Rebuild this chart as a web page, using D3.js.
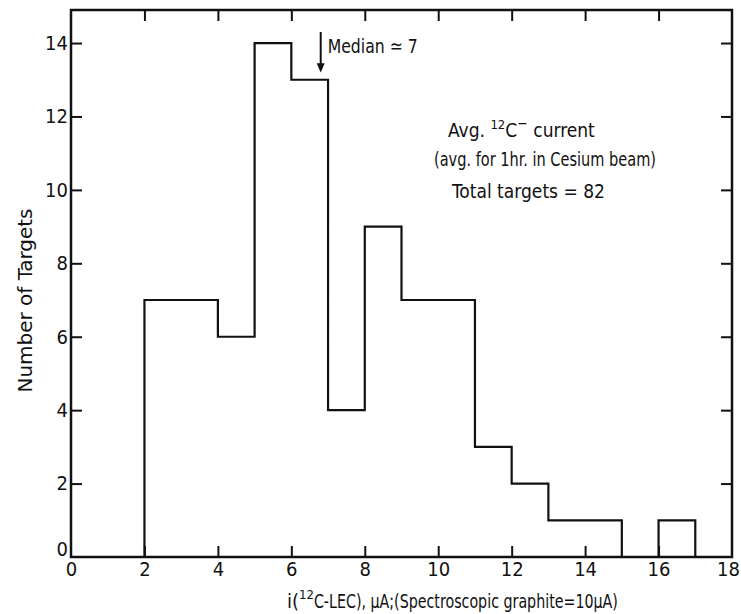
<!DOCTYPE html>
<html>
<head>
<meta charset="utf-8">
<script src="https://cdn.jsdelivr.net/npm/d3@7"></script>
<style>
  html, body { margin: 0; padding: 0; background: #fff; }
  svg text { font-family: "Liberation Sans Narrow", "DejaVu Sans Condensed", "Liberation Sans", sans-serif; fill: #111; }
</style>
</head>
<body>
<svg id="chart" width="741" height="614"></svg>
<script>
// ---- data ----
const binStarts = [2, 3, 4, 5, 6, 7, 8, 9, 10, 11, 12, 13, 14, 15, 16];
const counts    = [7, 7, 6, 14, 13, 4, 9, 7, 7, 3, 2, 1, 1, 0, 1];
const binWidth = 1;
const xTicks = [0, 2, 4, 6, 8, 10, 12, 14, 16, 18];
const yTicks = [0, 2, 4, 6, 8, 10, 12, 14];
const medianValue = 6.8;

const svg = d3.select("#chart");
const L = 71, R = 732, T = 10, B = 557;
const x = d3.scaleLinear().domain([0, 18]).range([L, R]);
const y = d3.scaleLinear().domain([0, 14.9]).range([B, T]);

const ink = "#111";
const tickLen = 11;

// bottom axis (ticks pointing inward)
const gx = svg.append("g").attr("transform", `translate(0,${B})`)
  .call(d3.axisBottom(x).tickValues(xTicks).tickSizeInner(-tickLen).tickSizeOuter(0).tickPadding(5));
gx.selectAll(".tick line").filter(d => d === 0 || d === 18).remove();
gx.selectAll(".tick text").filter(d => d === 18).attr("dx", -4);
// top axis ticks
const gxt = svg.append("g").attr("transform", `translate(0,${T})`)
  .call(d3.axisTop(x).tickValues(xTicks.filter(d => d > 0 && d < 18)).tickSizeInner(-tickLen).tickSizeOuter(0).tickFormat(""));
// left axis
const gy = svg.append("g").attr("transform", `translate(${L},0)`)
  .call(d3.axisLeft(y).tickValues(yTicks).tickSizeInner(-tickLen).tickSizeOuter(0).tickPadding(3));
gy.selectAll(".tick line").filter(d => d === 0).remove();
gy.selectAll(".tick text").filter(d => d === 0).attr("dy", "-0.1em");
// right axis
const gyr = svg.append("g").attr("transform", `translate(${R},0)`)
  .call(d3.axisRight(y).tickValues(yTicks.filter(d => d > 0)).tickSizeInner(-tickLen).tickSizeOuter(0).tickFormat(""));

[gx, gxt, gy, gyr].forEach(g => {
  g.select(".domain").remove();
  g.selectAll(".tick line").attr("stroke", ink).attr("stroke-width", 2);
  g.selectAll(".tick text").attr("font-size", 20).attr("fill", ink)
    .style("font-family", '"Liberation Sans Narrow", "DejaVu Sans Condensed", sans-serif');
});

// frame
svg.append("rect").attr("x", L).attr("y", T).attr("width", R - L).attr("height", B - T)
  .attr("fill", "none").attr("stroke", ink).attr("stroke-width", 2.5);

// histogram outline (step)
const pts = [[binStarts[0], 0]];
binStarts.forEach((s, i) => pts.push([s, counts[i]]));
const lastEnd = binStarts[binStarts.length - 1] + binWidth;
pts.push([lastEnd, counts[counts.length - 1]]);
pts.push([lastEnd, 0]);
const line = d3.line().x(d => x(d[0])).y(d => y(d[1])).curve(d3.curveStepAfter);
svg.append("path").attr("d", line(pts)).attr("fill", "none").attr("stroke", ink)
  .attr("stroke-width", 2.2).attr("stroke-linejoin", "miter");

// median arrow
const ax = x(medianValue);
svg.append("line").attr("x1", ax).attr("x2", ax).attr("y1", y(14.3)).attr("y2", y(13.3))
  .attr("stroke", ink).attr("stroke-width", 2);
svg.append("path").attr("d", `M${ax - 4},${y(13.45)} L${ax + 4},${y(13.45)} L${ax},${y(13.2)} Z`).attr("fill", ink);
svg.append("text").attr("x", ax + 7).attr("y", 53).attr("font-size", 20)
  .attr("textLength", 90).attr("lengthAdjust", "spacingAndGlyphs").text("Median ≃ 7");

// info text
const t1 = svg.append("text").attr("x", 448).attr("y", 137).attr("font-size", 19);
t1.append("tspan").text("Avg.  ");
t1.append("tspan").attr("font-size", 13).attr("dy", -8).text("12");
t1.append("tspan").attr("dy", 8).text("C");
t1.append("tspan").attr("font-size", 14).attr("dy", -9).text("−");
t1.append("tspan").attr("dy", 9).text(" current");

svg.append("text").attr("x", 434).attr("y", 166).attr("font-size", 19)
  .attr("textLength", 222).attr("lengthAdjust", "spacingAndGlyphs")
  .text("(avg. for 1hr. in Cesium beam)");
svg.append("text").attr("x", 452).attr("y", 198).attr("font-size", 19)
  .attr("textLength", 153).attr("lengthAdjust", "spacingAndGlyphs")
  .text("Total  targets = 82");

// axis titles
svg.append("text").attr("transform", `translate(32,${(T + B) / 2 + 17}) rotate(-90)`)
  .attr("text-anchor", "middle").attr("font-size", 20)
  .attr("textLength", 184).attr("lengthAdjust", "spacingAndGlyphs").text("Number of Targets");

const xl = svg.append("text").attr("x", 287).attr("y", 608).attr("font-size", 20);
xl.append("tspan").text("i(");
xl.append("tspan").attr("font-size", 13).attr("dy", -9).text("12");
xl.append("tspan").attr("dy", 9)
  .attr("textLength", 304).attr("lengthAdjust", "spacingAndGlyphs")
  .text("C-LEC), μA;(Spectroscopic graphite=10μA)");
</script>
</body>
</html>
